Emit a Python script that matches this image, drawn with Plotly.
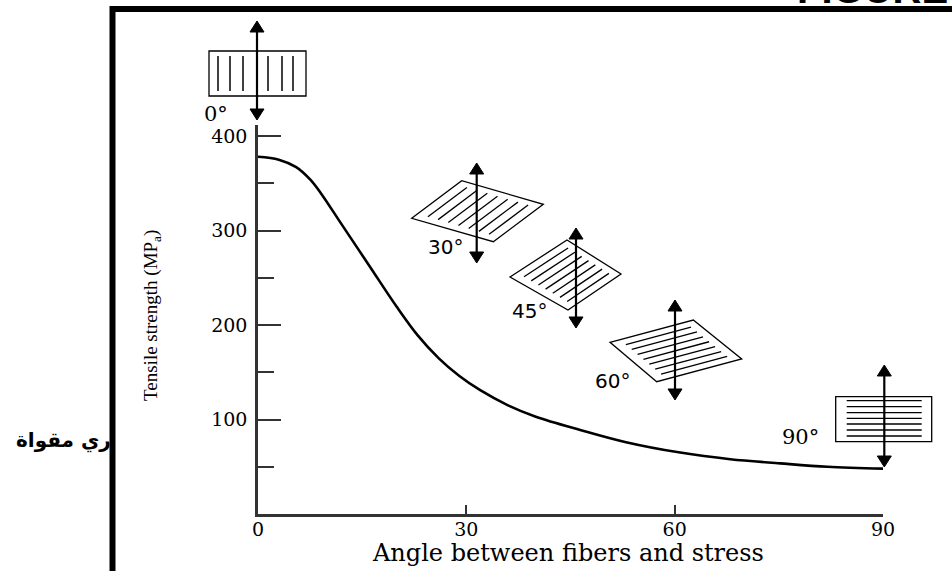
import plotly.graph_objects as go

# ---- data ----
angle_deg = [0, 3, 5.5, 7.5, 9, 12, 16, 20, 23, 26, 29, 32, 36, 40, 46.4, 53, 60.8, 68, 75.2, 82, 90]
strength_mpa = [378, 375, 367, 354, 340, 307, 263, 219, 189, 165, 146, 131, 115, 103, 89, 76, 65, 58, 53.6, 50, 48]
x_ticks = [0, 30, 60, 90]
y_ticks = [100, 200, 300, 400]
y_minor = [50, 150, 250, 350]

W, H = 952, 571
L, R, T, B = 258, 69, 125, 57
PW, PH = W - L - R, H - T - B


def px(x, y):
    return (x - L) / PW, (H - B - y) / PH


shapes = []
annotations = []


def line(x0, y0, x1, y1, w=1.3, color="black"):
    a = px(x0, y0)
    b = px(x1, y1)
    shapes.append(dict(type="line", xref="paper", yref="paper", x0=a[0], y0=a[1], x1=b[0], y1=b[1],
                       line=dict(color=color, width=w)))


def poly(pts, w=1.3, fill=None):
    p = [px(*q) for q in pts]
    d = "M " + " L ".join(f"{a:.5f},{b:.5f}" for a, b in p) + " Z"
    shapes.append(dict(type="path", xref="paper", yref="paper", path=d,
                       line=dict(color="black", width=w), fillcolor=fill if fill else "rgba(0,0,0,0)"))


def arrow(x, ytop, ybot):
    hw, hh = 7, 11
    line(x, ytop + hh - 1, x, ybot - hh + 1, w=2.2)
    poly([(x, ytop), (x - hw, ytop + hh), (x + hw, ytop + hh)], w=1, fill="black")
    poly([(x, ybot), (x - hw, ybot - hh), (x + hw, ybot - hh)], w=1, fill="black")


def hatched(A, Bp, C, D, n=7):
    poly([A, Bp, C, D], w=1.3)
    for i in range(1, n + 1):
        t = i / (n + 1)
        P = (A[0] + t * (D[0] - A[0]), A[1] + t * (D[1] - A[1]))
        Q = (Bp[0] + t * (C[0] - Bp[0]), Bp[1] + t * (C[1] - Bp[1]))
        s0, s1 = 0.12, 0.9
        line(P[0] + s0 * (Q[0] - P[0]), P[1] + s0 * (Q[1] - P[1]),
             P[0] + s1 * (Q[0] - P[0]), P[1] + s1 * (Q[1] - P[1]), w=1.3)


def label(text, x, y, size=19, family="DejaVu Sans", xanchor="center", **kw):
    a = px(x, y)
    annotations.append(dict(text=text, xref="paper", yref="paper", x=a[0], y=a[1], showarrow=False,
                            xanchor=xanchor, yanchor="middle", font=dict(family=family, size=size, color="black"), **kw))


# 0 degree icon
poly([(209, 51), (306, 51), (306, 96), (209, 96)], w=1.3)
for xv in [218, 230, 243, 268, 282, 293]:
    line(xv, 56, xv, 91, w=1.5)
arrow(257, 21, 120)
label("0°", 216, 114, size=21, family="DejaVu Serif")

# 30 degree icon
hatched((411.7, 218.3), (461.7, 180.7), (543.3, 204.3), (493.3, 241.7))
arrow(476.7, 163, 263)
label("30°", 445, 247, size=20)

# 45 degree icon
hatched((510, 277), (567, 240), (621, 274), (568, 310))
arrow(576, 228, 328)
label("45°", 529, 311, size=20)

# 60 degree icon
hatched((610, 342.3), (693.3, 320), (741.7, 359), (656.7, 381.7))
arrow(675, 300, 400)
label("60°", 612, 381, size=20)

# 90 degree icon
poly([(835.7, 396.7), (931.7, 396.7), (931.7, 441.7), (835.7, 441.7)], w=1.3)
for yv in [400.7, 406.7, 412.7, 418.3, 424, 430, 436]:
    line(846.7, yv, 921.7, yv, w=1.3)
arrow(884.3, 365, 467)
label("90°", 800, 437, size=21, family="DejaVu Serif")

# axis titles
label("Angle between fibers and stress", 568, 553, size=24, family="DejaVu Serif")
label("Tensile strength (MP<sub>a</sub>)", 152, 316, size=19, family="Liberation Serif", textangle=-90)

# Arabic fragment on the left
label("ري مقواة", 113, 440, size=20, family="DejaVu Sans", xanchor="right")
annotations[-1]["font"]["weight"] = "bold"

# truncated heading at top right
a = px(796, 12)
annotations.append(dict(text="FIGURE", xref="paper", yref="paper", x=a[0], y=a[1], showarrow=False,
                        xanchor="left", yanchor="bottom", borderpad=0,
                        font=dict(family="Liberation Sans", size=40, color="black", weight="bold")))

# frame
p0 = px(112.5, 9)
p1 = px(960, 580)
shapes.append(dict(type="rect", xref="paper", yref="paper", x0=p0[0], y0=p1[1], x1=p1[0], y1=p0[1],
                   line=dict(color="black", width=6), layer="above"))

fig = go.Figure()
fig.add_trace(go.Scatter(x=angle_deg, y=strength_mpa, mode="lines",
                         line=dict(color="black", width=2.6, shape="spline", smoothing=1),
                         hoverinfo="skip", cliponaxis=False))

axis_color = "#333333"
fig.update_layout(
    width=W, height=H,
    margin=dict(l=L, r=R, t=T, b=B, pad=0),
    paper_bgcolor="white", plot_bgcolor="white",
    showlegend=False,
    shapes=shapes, annotations=annotations,
    xaxis=dict(range=[0, 90], showgrid=False, zeroline=False, showline=True, linecolor=axis_color,
               linewidth=2.5, ticks="inside", ticklen=9, tickwidth=1.8, tickcolor=axis_color,
               tickvals=x_ticks, ticktext=[str(v) for v in x_ticks], ticklabelstandoff=-4,
               tickfont=dict(family="DejaVu Serif", size=19, color="black")),
    yaxis=dict(range=[0, (H - B - T) / 0.945], showgrid=False, zeroline=False, showline=True,
               linecolor=axis_color, linewidth=2.5, ticks="inside", ticklen=23, tickwidth=1.6,
               tickcolor=axis_color, tickvals=y_ticks, ticktext=[str(v) for v in y_ticks],
               tickfont=dict(family="DejaVu Serif", size=19, color="black"), ticklabelstandoff=4,
               minor=dict(tickvals=y_minor, ticks="inside", ticklen=16, tickwidth=1.6, tickcolor=axis_color)),
)

fig.write_html("out.html")
